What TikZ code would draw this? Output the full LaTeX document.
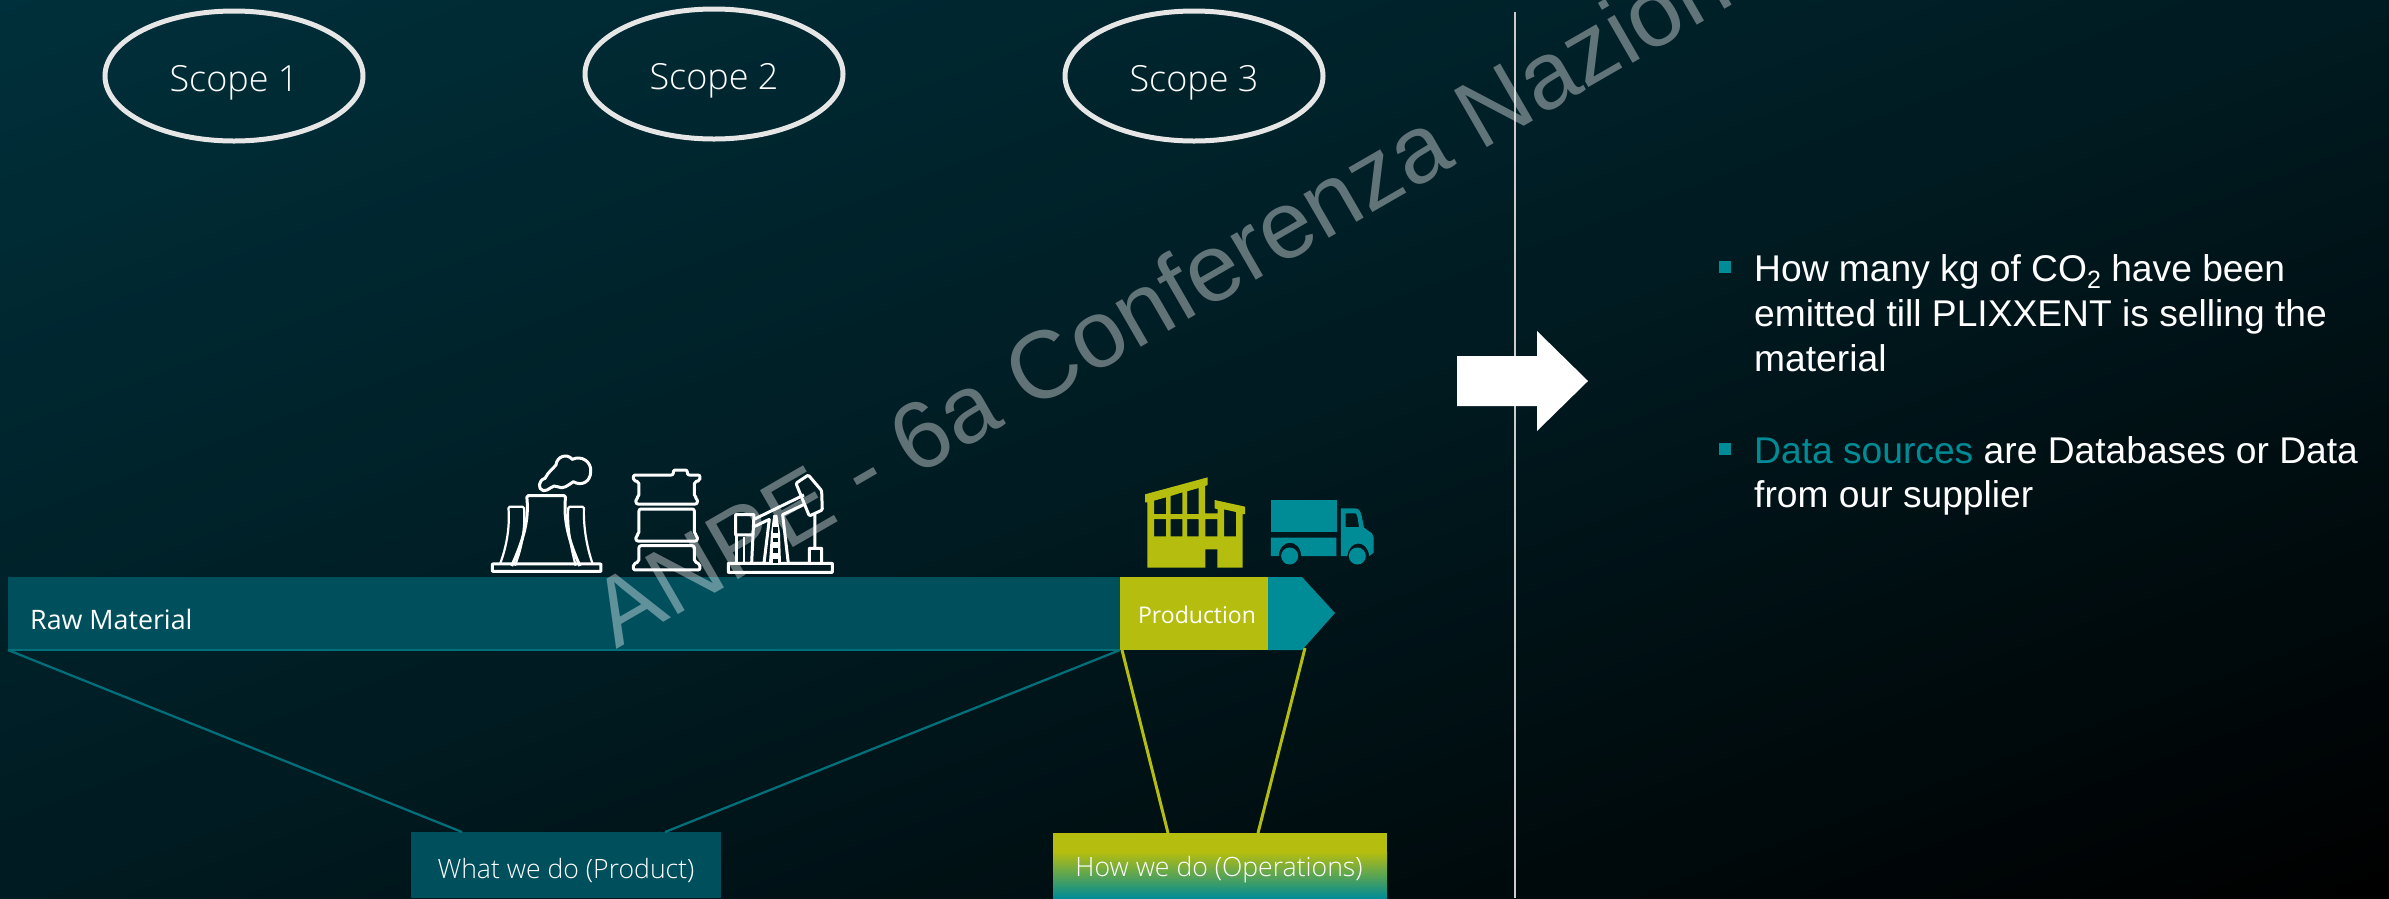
\documentclass[tikz,border=0pt]{standalone}
\usepackage{fontspec}
\setmainfont{Liberation Sans}
\newfontfamily\lightf{Open Sans Light}
\newfontfamily\regf{Open Sans}
\usetikzlibrary{shapes.geometric}
\definecolor{barteal}{HTML}{004F5C}
\definecolor{olive}{HTML}{B5BD0F}
\definecolor{teal2}{HTML}{008C96}
\definecolor{ringc}{HTML}{E6E6E6}
\definecolor{icondark}{RGB}{0,25,32}
\tikzset{
  scopering/.style={draw=ringc,line width=5pt,ellipse,minimum width=258pt,minimum height=130pt,inner sep=0pt},
  scopetext/.style={text=white,inner sep=0pt,font=\lightf\fontsize{36}{40}\selectfont},
  barlabel/.style={text=white,inner sep=0pt,font=\regf\fontsize{26.8}{32}\selectfont},
  boxlabel/.style={text=white,inner sep=0pt,font=\lightf\fontsize{26.6}{32}\selectfont},
  bodytext/.style={text=white,anchor=base west,inner sep=0pt,font=\fontsize{37.2}{45}\selectfont},
  iconline/.style={draw=white,line width=3pt,line join=round,rounded corners=1.5pt},
  tealline/.style={draw=barteal!45!teal2,line width=2.2pt},
  oliveline/.style={draw=olive,line width=3pt},
}
\begin{document}
\begin{tikzpicture}[x=1pt,y=-1pt]
\useasboundingbox (0,0) rectangle (2389,898);
% background gradient (corner to corner)
\fill[fill={rgb,255:red,0;green,48;blue,59}] (0,0) rectangle (2389,898);
\foreach \i in {1,...,119}{
  \pgfmathsetmacro{\t}{\i/120}
  \pgfmathsetmacro{\gval}{\t<0.5 ? 48-2*\t*21 : 27-(\t-0.5)*2*27}
  \pgfmathsetmacro{\bval}{\t<0.5 ? 59-2*\t*26 : 33-(\t-0.5)*2*33}
  \pgfmathsetmacro{\ga}{int(\gval)}
  \pgfmathsetmacro{\ba}{int(\bval)}
  \definecolor{bgc}{RGB}{0,\ga,\ba}
  \ifdim\t pt<0.5pt
    \fill[bgc] ({2*\t*2389},0) -- (2389,0) -- (2389,898) -- (0,898) -- (0,{2*\t*898}) -- cycle;
  \else
    \fill[bgc] (2389,{(2*\t-1)*898}) -- (2389,898) -- ({(2*\t-1)*2389},898) -- cycle;
  \fi
}
% vertical divider
\coordinate (divtop) at (1515,12);
\coordinate (divbot) at (1515,898);
\draw[draw=white!80!black,line width=1.5pt] (divtop) -- (divbot);
% scope rings
\node[scopering] (s1) at (234,76) {};
\node[scopering] (s2) at (714,74) {};
\node[scopering] (s3) at (1194,76) {};
\node[scopetext] (s1t) at (234,83) {Scope 1};
\node[scopetext] (s2t) at (714,81) {Scope 2};
\node[scopetext] (s3t) at (1194,83) {Scope 3};
% bottom boxes
\node[fill=barteal,minimum width=310pt,minimum height=66pt,inner sep=0pt,anchor=north west] (what) at (411,832) {};
\node[boxlabel] (whatl) at (566,870) {What we do (Product)};
\fill[olive] (1053,833) rectangle (1387,853);
\shade[top color=olive,bottom color=teal2] (1053,852) rectangle (1387,898);
\node[boxlabel] (howl) at (1219,870) {How we do (Operations)};
% bar
\fill[barteal] (8,577) rectangle (1120,650);
\draw[draw=barteal!45!teal2,line width=1.6pt] (8,650) -- (1120,650);
\fill[teal2] (1268,577) -- (1302,577) -- (1335,613) -- (1302,650) -- (1268,650) -- cycle;
\fill[olive] (1120,577) rectangle (1268,650);
\node[barlabel,anchor=west] (raw) at (30,619) {Raw Material};
\node[barlabel,font=\regf\fontsize{23}{28}\selectfont] (prod) at (1197,615) {Production};
% connectors
\coordinate (a1) at (8,650);
\coordinate (a2) at (1120,650);
\coordinate (b1) at (462,832);
\coordinate (b2) at (665,832);
\coordinate (c1) at (1122,650);
\coordinate (c2) at (1305,648);
\coordinate (d1) at (1168,833);
\coordinate (d2) at (1258,833);
\draw[tealline] (a1) -- (b1);
\draw[tealline] (a2) -- (b2);
\draw[oliveline] (c1) -- (d1);
\draw[oliveline] (c2) -- (d2);
% big arrow
\fill[white] (1457,356) -- (1537,356) -- (1537,331) -- (1588,381) -- (1537,431) -- (1537,406) -- (1457,406) -- cycle;
% bullets
\fill[teal2] (1719,261) rectangle (1731,273);
\fill[teal2] (1719,443) rectangle (1731,455);
\node[bodytext] (l1) at (1754,281) {How many kg of CO\raisebox{-0.2em}{\fontsize{25}{25}\selectfont 2} have been};
\node[bodytext] (l2) at (1754,326) {emitted till PLIXXENT is selling the};
\node[bodytext] (l3) at (1754,371) {material};
\node[bodytext] (l4) at (1754,463) {\textcolor{teal2}{Data sources} are Databases or Data};
\node[bodytext] (l5) at (1754,507) {from our supplier};
% icons: coordinates in 3x zoom pixels of region (460,430)
\begin{scope}[shift={(460,430)},x=0.3333pt,y=-0.3333pt]
 % cooling tower
 \draw[iconline,rounded corners=0.5pt] (97,402) rectangle (423,424);
 \draw[iconline] (155,408) .. controls (190,330) and (208,270) .. (200,197) -- (317,197) .. controls (310,270) and (325,330) .. (360,408);
 \draw[iconline,line width=2.2pt] (120,402) .. controls (140,350) and (150,290) .. (145,230) -- (192,230) .. controls (195,290) and (190,340) .. (165,407);
 \draw[iconline,line width=2.2pt] (398,402) .. controls (380,350) and (370,290) .. (372,230) -- (325,230) .. controls (322,290) and (330,340) .. (347,407);
 % cloud
 \draw[draw=white,line width=3pt,line join=round] (250,182) .. controls (232,178) and (235,150) .. (255,145) .. controls (265,125) and (280,115) .. (288,105) .. controls (290,80) and (320,68) .. (337,88) .. controls (365,75) and (395,95) .. (392,125) .. controls (392,155) and (365,170) .. (340,155) .. controls (325,165) and (310,180) .. (292,170) .. controls (280,160) and (265,185) .. (250,182) -- cycle;
 % barrel
 \draw[iconline,rounded corners=2pt] (520,135) -- (640,135) -- (640,120) -- (682,120) -- (682,135) -- (720,135) -- (720,152) -- (703,155) -- (703,200) -- (712,205) -- (712,222) -- (528,222) -- (528,205) -- (537,200) -- (537,155) -- (520,152) -- cycle;
 \draw[iconline,rounded corners=2pt] (537,237) -- (703,237) -- (703,312) -- (712,317) -- (712,333) -- (528,333) -- (528,317) -- (537,312) -- cycle;
 \draw[iconline,rounded corners=2pt] (537,347) -- (703,347) -- (703,395) -- (720,402) -- (720,420) -- (520,420) -- (520,402) -- (537,395) -- cycle;
\end{scope}
% pump jack
\begin{scope}[shift={(560,280)},x=0.3333pt,y=-0.3333pt]
 \draw[iconline,rounded corners=0.3pt] (505,877) rectangle (817,850);
 \draw[iconline,rounded corners=0.3pt] (545,850) -- (575,850) -- (582,704) -- (527,704) -- (527,765) -- (575,765);
 \draw[iconline,rounded corners=0.3pt] (530,765) -- (530,850);
 \draw[draw=white,line width=1.8pt] (552,770) -- (552,850);
 \draw[iconline,rounded corners=0.3pt] (575,850) -- (612,850) -- (628,718) -- (582,740);
 \draw[iconline,rounded corners=0.3pt] (582,718) -- (732,645);
 \draw[iconline,rounded corners=1.2pt] (708,610) -- (745,585) -- (785,632) -- (787,690) -- (748,708) -- cycle;
 \draw[iconline,rounded corners=0.3pt] (735,672) -- (668,704) -- (685,850) -- (748,850) -- (748,805) -- (765,805) -- (765,702);
 \draw[iconline,rounded corners=0.3pt] (765,805) -- (785,805) -- (785,850);
 \fill[white] (640,705) -- (652,705) -- (660,760) -- (663,850) -- (627,850) -- (633,760) -- cycle;
 \foreach \yy/\hh in {742/16,773/13,805/13,838/10}{
   \fill[icondark] (638,\yy) rectangle (655,\yy+\hh);
 }
\end{scope}
% factory and truck: coordinates in 3x zoom pixels of region (1080,440)
\begin{scope}[shift={(1080,440)},x=0.3333pt,y=-0.3333pt]
 \fill[olive,even odd rule] (195,163) -- (383,112) -- (383,135) -- (375,138) -- (375,220) -- (413,220) -- (413,208) -- (404,205) -- (404,180) -- (495,200) -- (495,222) -- (488,222) -- (488,383) -- (412,383) -- (412,328) -- (376,328) -- (376,383) -- (202,383) -- (202,187) -- (195,187) -- cycle
 (222,182) -- (258,172) -- (258,222) -- (222,222) -- cycle
 (272,168) -- (307,157) -- (307,222) -- (272,222) -- cycle
 (321,154) -- (356,144) -- (356,222) -- (321,222) -- cycle
 (222,237) rectangle (258,289)
 (272,237) rectangle (307,289)
 (321,237) rectangle (356,289)
 (376,237) rectangle (412,289)
 (432,208) -- (468,216) -- (468,289) -- (432,289) -- cycle;
 \fill[teal2] (573,180) rectangle (771,276);
 \fill[teal2] (573,293) -- (769,293) -- (769,348) -- (664,348) .. controls (660,295) and (600,295) .. (596,348) -- (573,348) -- cycle;
 \fill[teal2,even odd rule] (783,205) -- (825,205) .. controls (838,205) and (842,215) .. (845,228) -- (852,263) -- (876,280) -- (881,292) -- (881,338) -- (868,348) .. controls (862,298) and (808,298) .. (802,348) -- (783,348) -- cycle
 (797,220) -- (826,220) .. controls (832,220) and (834,240) .. (837,261) -- (797,261) -- cycle;
 \fill[teal2] (629,348) circle[radius=8.5pt];
 \fill[teal2] (832,348) circle[radius=8.5pt];
\end{scope}
% watermark
\begin{scope}
 \clip (0,0) rectangle (2389,898);
 \node[rotate=30,anchor=base west,inner sep=0pt,text=white,text opacity=0.38,font=\fontsize{95.5}{96}\selectfont] (wm) at (616,650) {ANPE - 6a Conferenza Nazion};
\end{scope}
\end{tikzpicture}
\end{document}
